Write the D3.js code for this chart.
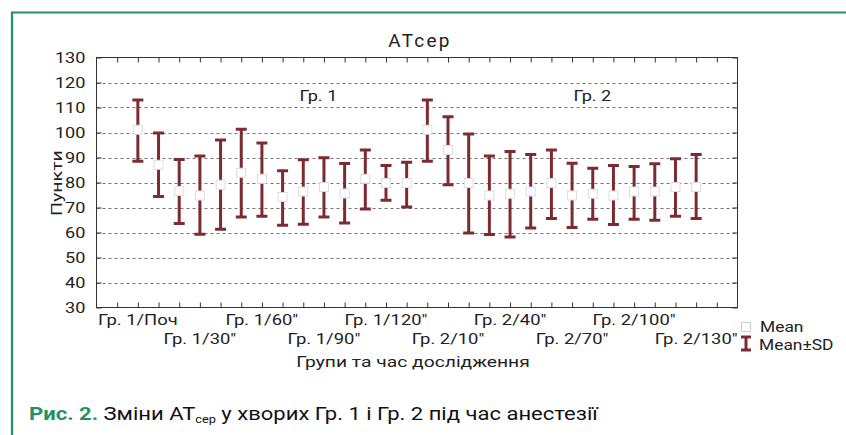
<!DOCTYPE html>
<html><head><meta charset="utf-8">
<script src="https://cdn.jsdelivr.net/npm/d3@7"></script>
<style>
body{margin:0;background:#fff;}
svg text{font-family:Roboto, "DejaVu Sans", sans-serif;}
</style></head>
<body><svg id="c" width="846" height="435"></svg>
<script>
const categories = ["Гр. 1/Поч","Гр. 1/10\"","Гр. 1/20\"","Гр. 1/30\"","Гр. 1/40\"","Гр. 1/50\"","Гр. 1/60\"","Гр. 1/70\"","Гр. 1/80\"","Гр. 1/90\"","Гр. 1/100\"","Гр. 1/110\"","Гр. 1/120\"","Гр. 1/130\"",
"Гр. 2/Поч","Гр. 2/10\"","Гр. 2/20\"","Гр. 2/30\"","Гр. 2/40\"","Гр. 2/50\"","Гр. 2/60\"","Гр. 2/70\"","Гр. 2/80\"","Гр. 2/90\"","Гр. 2/100\"","Гр. 2/110\"","Гр. 2/120\"","Гр. 2/130\""];
const tickLabels = ["Гр. 1/Поч","Гр. 1/30\"","Гр. 1/60\"","Гр. 1/90\"","Гр. 1/120\"","Гр. 2/10\"","Гр. 2/40\"","Гр. 2/70\"","Гр. 2/100\"","Гр. 2/130\""];
const meanValues = [101.1,87.1,76.6,74.8,79.1,83.9,81.5,74.2,76.4,78.2,75.6,81.5,79.8,79.8,
101.1,93.0,79.8,74.8,75.5,76.4,79.8,74.8,75.5,74.8,76.4,76.4,78.2,78.2];
const upperValues = [113.0,99.8,89.2,90.6,97.0,101.3,95.8,84.7,89.1,89.9,87.6,93.0,86.8,88.1,
113.0,106.3,99.4,90.6,92.4,91.2,93.0,87.7,85.7,86.8,86.4,87.5,89.5,91.2];
const lowerValues = [88.5,74.4,63.6,59.3,61.3,66.2,66.5,62.9,63.3,66.2,63.8,69.4,72.9,70.2,
88.5,79.1,59.8,59.2,58.2,61.8,65.6,62.0,65.3,63.2,65.3,64.9,66.5,65.6];
const yTicks = [30,40,50,60,70,80,90,100,110,120,130];
const groupLabels = ["Гр. 1","Гр. 2"];

const svg = d3.select("#c");
const green = "#1f9462", bar = "#7d2b30", ink = "#222";
const L=96.5, R=737.5, T=57.5, B=307.5;
const x = d3.scaleLinear().domain([-2,29]).range([L,R]);
const y = d3.scaleLinear().domain([30,130]).range([B,T]);

// wide text helper: places text at (px,py) stretched horizontally by s
function wideText(parent, px, py, s, str, size, anchor, rot){
  return parent.append("text")
    .attr("transform",`translate(${px},${py})${rot?` rotate(${rot})`:""} scale(${s},1)`)
    .attr("text-anchor",anchor||"start").attr("font-size",size).attr("fill",ink).text(str);
}

// frame
svg.append("path").attr("d",`M12,435 V12.5 H846`).attr("fill","none").attr("stroke",green).attr("stroke-width",2.2);

// title
svg.append("text").attr("x",420).attr("y",47).attr("text-anchor","middle").attr("font-size",19).attr("letter-spacing",2.2).attr("fill",ink).text("ATcep");

// gridlines
svg.append("g").selectAll("line").data(yTicks.filter(d=>d>30&&d<130)).join("line")
 .attr("x1",L).attr("x2",R).attr("y1",d=>Math.round(y(d))+0.5).attr("y2",d=>Math.round(y(d))+0.5)
 .attr("stroke","#777").attr("stroke-width",1).attr("stroke-dasharray","3,3");

// axes
const idx = d3.range(-1,29);
const ax = svg.append("g").attr("transform",`translate(0,${B})`).call(d3.axisBottom(x).tickValues(idx).tickSizeInner(-5).tickSizeOuter(0).tickFormat(""));
const axT = svg.append("g").attr("transform",`translate(0,${T})`).call(d3.axisTop(x).tickValues(idx).tickSizeInner(-5).tickSizeOuter(0).tickFormat(""));
const ay = svg.append("g").attr("transform",`translate(${L},0)`).call(d3.axisLeft(y).tickValues(yTicks).tickSizeInner(-5).tickSizeOuter(0).tickPadding(11).tickFormat(d3.format("d")));
const ayR = svg.append("g").attr("transform",`translate(${R},0)`).call(d3.axisRight(y).tickValues(yTicks).tickSizeInner(-5).tickSizeOuter(0).tickFormat(""));
[ax,axT,ay,ayR].forEach(g=>{g.select(".domain").remove();g.selectAll("line").attr("stroke","#333");});
ay.selectAll("text").attr("font-size",14.5).attr("fill",ink).attr("font-family","Roboto")
  .attr("x",null).attr("dy","0.36em").attr("transform","translate(-11,0) scale(1.25,1)");
svg.append("rect").attr("x",L).attr("y",T).attr("width",R-L).attr("height",B-T).attr("fill","none").attr("stroke","#333");

// x tick labels (every third category)
const labIdx = d3.range(0,28,3);
const xl = svg.append("g");
labIdx.forEach((d,i)=>wideText(xl, x(d), i%2===0 ? 325 : 344, 1.27, tickLabels[i], 14.5, "middle"));

// group labels
wideText(svg, x(8.73), 101, 1.25, groupLabels[0], 14.5, "middle");
wideText(svg, x(21.98), 101, 1.25, groupLabels[1], 14.5, "middle");

// axis titles
wideText(svg, 62, 183, 1.35, "Пункти", 14.5, "middle", -90);
wideText(svg, 413, 367, 1.33, "Групи та час дослідження", 14.5, "middle");

// error bars
const eb = svg.append("g").selectAll("g").data(categories.map((c,i)=>i)).join("g");
eb.append("line").attr("x1",d=>x(d)).attr("x2",d=>x(d)).attr("y1",d=>y(upperValues[d])).attr("y2",d=>y(lowerValues[d])).attr("stroke",bar).attr("stroke-width",3);
eb.append("line").attr("x1",d=>x(d)-5.5).attr("x2",d=>x(d)+5.5).attr("y1",d=>y(upperValues[d])).attr("y2",d=>y(upperValues[d])).attr("stroke",bar).attr("stroke-width",3);
eb.append("line").attr("x1",d=>x(d)-5.5).attr("x2",d=>x(d)+5.5).attr("y1",d=>y(lowerValues[d])).attr("y2",d=>y(lowerValues[d])).attr("stroke",bar).attr("stroke-width",3);
eb.append("rect").attr("x",d=>x(d)-4.5).attr("y",d=>y(meanValues[d])-4.5).attr("width",9).attr("height",9).attr("fill","#fff").attr("stroke","#ddd").attr("stroke-width",1);

// legend
svg.append("rect").attr("x",741.5).attr("y",322.5).attr("width",9).attr("height",9).attr("fill","#fff").attr("stroke","#ccc");
wideText(svg, 760, 332, 1.2, "Mean", 14.5, "start");
svg.append("line").attr("x1",746).attr("x2",746).attr("y1",337).attr("y2",350).attr("stroke",bar).attr("stroke-width",3);
svg.append("line").attr("x1",741).attr("x2",751).attr("y1",337).attr("y2",337).attr("stroke",bar).attr("stroke-width",3);
svg.append("line").attr("x1",741).attr("x2",751).attr("y1",350).attr("y2",350).attr("stroke",bar).attr("stroke-width",3);
wideText(svg, 759, 350, 1.2, "Mean±SD", 14.5, "start");

// caption
const cap = svg.append("text").attr("transform","translate(29,420) scale(1.16,1)").attr("font-size",19).attr("font-family","'Liberation Sans Narrow','Liberation Sans',Arial,sans-serif").attr("fill","#111");
cap.append("tspan").attr("font-weight","bold").attr("fill",green).text("Рис. 2.");
cap.append("tspan").text(" Зміни AT");
cap.append("tspan").attr("font-size",11).attr("dy",3).text("сер");
cap.append("tspan").attr("dy",-3).text(" у хворих Гр. 1 і Гр. 2 під час анестезії");
</script></body></html>
